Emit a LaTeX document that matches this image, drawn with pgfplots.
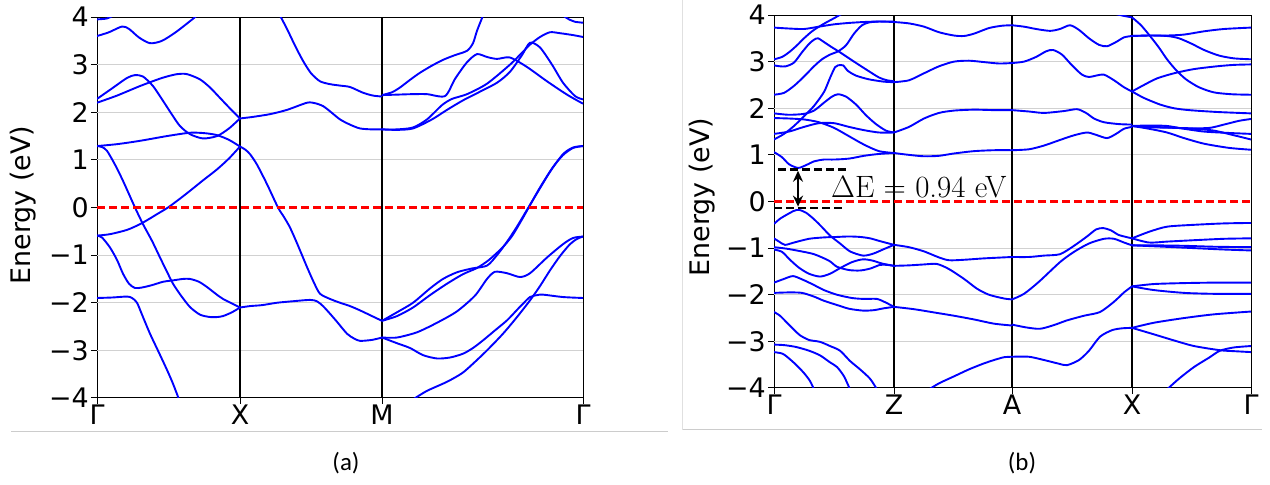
\documentclass[border=0pt]{standalone}
\usepackage[no-math]{fontspec}
\setmainfont{DejaVu Sans}
\newfontfamily\carlito{Carlito}
\newfontfamily\lmr{Latin Modern Roman}
\usepackage{pgfplots}
\pgfplotsset{compat=1.18}
\usetikzlibrary{arrows.meta}
\definecolor{mplred}{RGB}{255,0,0}
\pgfplotsset{
  band/.style={draw=blue, line width=1.9bp, smooth, tension=0.45, no marks},
  gridl/.style={draw=black!18, line width=1.2bp, no marks},
  bs/.style={scale only axis, ymin=-4, ymax=4,
    ytick={-4,-3,-2,-1,0,1,2,3,4},
    yticklabels={−4,−3,−2,−1,0,1,2,3,4},
    axis line style={black, line width=1bp},
    tick style={black, line width=1bp},
    tick align=outside, major tick length=6bp, tick pos=left,
    ticklabel style={font=\fontsize{27}{30}\selectfont},
    yticklabel style={inner xsep=2bp},
    xticklabel style={inner ysep=1bp},
    clip=true},
  vline/.style={draw=black, line width=1.3bp, no marks}
}
\begin{document}
\begin{tikzpicture}
\path[use as bounding box] (0,0) rectangle (1270bp,485bp);
% frames
\draw[black!20, line width=1bp] (11bp,53bp) -- (668bp,53bp);
\draw[black!20, line width=1bp] (683bp,55bp) -- (1262bp,55bp);
\draw[black!12, line width=1bp] (682bp,55bp) -- (682bp,485bp);
\node[font=\fontsize{27}{30}\selectfont, rotate=90] at (23bp,280bp) {Energy (eV)};
\node[font=\fontsize{27}{30}\selectfont, rotate=90] at (702bp,288bp) {Energy (eV)};
\node[font=\carlito\fontsize{25}{28}\selectfont] at (346bp,22bp) {(a)};
\node[font=\carlito\fontsize{25}{28}\selectfont] at (1022bp,22bp) {(b)};

% ---------------- panel (a)
\begin{axis}[bs, at={(97bp,87bp)}, anchor=south west, width=486bp, height=381bp,
  xmin=0, xmax=486, xtick={0,143,285,486}, xticklabels={Γ,X,M,Γ}]
\addplot[gridl] coordinates {(0,3)(486,3)};
\addplot[gridl] coordinates {(0,2)(486,2)};
\addplot[gridl] coordinates {(0,1)(486,1)};
\addplot[gridl] coordinates {(0,-1)(486,-1)};
\addplot[gridl] coordinates {(0,-2)(486,-2)};
\addplot[gridl] coordinates {(0,-3)(486,-3)};
\addplot[vline] coordinates {(143,-4)(143,4)};
\addplot[vline] coordinates {(285,-4)(285,4)};
% Gamma-X
\addplot[band] coordinates {(0,3.95)(10,3.97)(18,4.05)};
\addplot[band] coordinates {(0,3.6)(12,3.68)(25,3.8)(32,3.75)(42,3.57)(53,3.45)(65,3.5)(80,3.7)(100,4.03)};
\addplot[band] coordinates {(0,2.28)(15,2.5)(30,2.72)(38,2.78)(46,2.75)(56,2.55)(66,2.24)(75,1.95)(83,1.71)(93,1.54)(106,1.45)(120,1.5)(132,1.66)(143,1.87)};
\addplot[band] coordinates {(0,2.2)(20,2.35)(43,2.55)(65,2.72)(80,2.8)(90,2.8)(103,2.69)(113,2.52)(123,2.3)(133,2.08)(143,1.87)};
\addplot[band] coordinates {(0,1.29)(20,1.33)(43,1.4)(70,1.5)(93,1.57)(108,1.56)(120,1.52)(132,1.42)(143,1.28)};
\addplot[band] coordinates {(0,1.29)(5,1.27)(10,1.19)(18,0.9)(26,0.56)(38,0)(46,-0.35)(55,-0.7)(63,-1.05)(70,-1.35)(76,-1.6)(84,-1.85)(93,-2.09)(103,-2.25)(113,-2.3)(120,-2.3)(126,-2.28)(135,-2.2)(143,-2.1)};
\addplot[band] coordinates {(0,-0.59)(13,-0.56)(30,-0.47)(43,-0.35)(53,-0.23)(60,-0.14)(71,0)(82,0.17)(93,0.35)(106,0.57)(120,0.8)(132,1.03)(143,1.28)};
\addplot[band] coordinates {(0,-0.59)(5,-0.63)(13,-0.84)(20,-1.1)(26,-1.39)(32,-1.6)(38,-1.69)(45,-1.68)(55,-1.63)(66,-1.56)(76,-1.53)(86,-1.5)(93,-1.5)(102,-1.56)(110,-1.67)(118,-1.8)(126,-1.92)(143,-2.1)};
\addplot[band] coordinates {(0,-1.9)(15,-1.89)(30,-1.87)(35,-1.9)(40,-2.0)(46,-2.3)(53,-2.65)(62,-3.05)(70,-3.41)(76,-3.7)(82,-4.03)};
% X-M
\addplot[band] coordinates {(183,4.03)(190,3.75)(198,3.4)(206,3.08)(214,2.82)(223,2.65)(233,2.59)(243,2.56)(253,2.53)(266,2.41)(276,2.35)(285,2.33)};
\addplot[band] coordinates {(143,1.87)(155,1.9)(173,1.96)(190,2.05)(210,2.2)(218,2.19)(226,2.13)(233,2.02)(243,1.85)(253,1.74)(263,1.66)(275,1.64)(285,1.64)};
\addplot[band] coordinates {(143,1.28)(148,1.22)(153,1.12)(160,0.9)(170,0.49)(181,0)(187,-0.2)(193,-0.42)(200,-0.75)(210,-1.25)(217,-1.58)(223,-1.81)(233,-1.92)(243,-2.0)(253,-2.07)(263,-2.16)(275,-2.28)(285,-2.38)};
\addplot[band] coordinates {(143,-2.1)(153,-2.07)(165,-2.05)(180,-2.0)(195,-1.97)(213,-1.94)(220,-1.97)(226,-2.07)(233,-2.23)(240,-2.4)(250,-2.65)(257,-2.75)(263,-2.8)(275,-2.78)(285,-2.73)};
% M-Gamma
\addplot[band] coordinates {(285,2.36)(295,2.42)(303,2.52)(313,2.68)(323,2.83)(335,2.98)(346,3.1)(358,3.2)(370,3.29)(376,3.45)(380,3.71)(386,4.03)};
\addplot[band] coordinates {(285,2.36)(300,2.37)(315,2.38)(330,2.38)(348,2.34)(358,2.7)(370,3.05)(380,3.22)(390,3.16)(400,3.12)(413,3.15)(430,2.95)(450,2.65)(470,2.37)(486,2.18)};
\addplot[band] coordinates {(285,1.64)(300,1.64)(316,1.68)(330,1.85)(345,2.15)(355,2.28)(370,2.38)(390,2.6)(413,3.0)(425,3.25)(433,3.42)(443,3.58)(453,3.68)(463,3.66)(476,3.62)(486,3.58)};
\addplot[band] coordinates {(285,1.64)(300,1.63)(316,1.66)(335,1.85)(350,2.05)(366,2.25)(380,2.4)(400,2.62)(413,2.85)(425,3.2)(433,3.46)(443,3.36)(455,3.0)(466,2.62)(478,2.34)(486,2.27)};
\addplot[band] coordinates {(466,4.03)(472,3.95)(478,3.9)(486,3.88)};
\addplot[band] coordinates {(285,-2.38)(300,-2.2)(316,-2.0)(333,-1.7)(346,-1.5)(360,-1.36)(375,-1.28)(390,-1.22)(400,-1.0)(410,-0.72)(420,-0.4)(430,-0.05)(440,0.3)(453,0.75)(466,1.12)(476,1.26)(486,1.29)};
\addplot[band] coordinates {(285,-2.38)(300,-2.28)(316,-2.1)(333,-1.84)(350,-1.6)(366,-1.4)(380,-1.27)(392,-1.1)(405,-0.85)(415,-0.6)(425,-0.25)(433,0.05)(443,0.42)(456,0.85)(466,1.1)(476,1.25)(486,1.29)};
\addplot[band] coordinates {(285,-2.73)(300,-2.73)(320,-2.62)(340,-2.42)(360,-2.18)(378,-1.85)(390,-1.5)(398,-1.35)(410,-1.38)(423,-1.46)(433,-1.38)(450,-1.05)(466,-0.77)(476,-0.64)(486,-0.61)};
\addplot[band] coordinates {(285,-2.73)(300,-2.85)(313,-2.95)(326,-3.1)(340,-3.17)(353,-3.15)(366,-3.07)(376,-2.95)(386,-2.79)(398,-2.58)(410,-2.37)(420,-2.15)(426,-2.02)(433,-1.88)(440,-1.84)(446,-1.83)(466,-1.88)(486,-1.9)};
\addplot[band] coordinates {(316,-4.03)(330,-3.85)(350,-3.66)(365,-3.48)(376,-3.28)(390,-3.0)(406,-2.65)(420,-2.3)(433,-1.95)(443,-1.65)(453,-1.32)(463,-1.02)(473,-0.77)(480,-0.66)(486,-0.61)};
\addplot[draw=mplred, line width=2.2bp, dash pattern=on 8bp off 4bp, no marks] coordinates {(0,0)(486,0)};
\end{axis}

% ---------------- panel (b)
\begin{axis}[bs, at={(774bp,97bp)}, anchor=south west, width=477bp, height=373bp,
  xmin=0, xmax=477, xtick={0,120,238,358,477}, xticklabels={Γ,Z,A,X,Γ}]
\addplot[gridl] coordinates {(0,3)(477,3)};
\addplot[gridl] coordinates {(0,2)(477,2)};
\addplot[gridl] coordinates {(0,1)(477,1)};
\addplot[gridl] coordinates {(0,-1)(477,-1)};
\addplot[gridl] coordinates {(0,-2)(477,-2)};
\addplot[gridl] coordinates {(0,-3)(477,-3)};
\addplot[vline] coordinates {(120,-4)(120,4)};
\addplot[vline] coordinates {(238,-4)(238,4)};
\addplot[vline] coordinates {(358,-4)(358,4)};
% Gamma-Z upper
\addplot[band] coordinates {(0,3.73)(15,3.71)(30,3.70)(45,3.75)(60,3.80)(75,3.83)(90,3.85)(105,3.86)(120,3.85)};
\addplot[band] coordinates {(0,3.05)(8,3.1)(15,3.2)(23,3.35)(30,3.5)(38,3.65)(45,3.75)(53,3.85)(60,3.93)(68,4.03)};
\addplot[band] coordinates {(0,2.92)(6,2.9)(12,2.9)(20,2.98)(28,3.2)(35,3.38)(40,3.47)(44,3.5)(50,3.42)(57,3.32)(66,3.2)(80,3.0)(93,2.82)(105,2.66)(113,2.6)(120,2.58)};
\addplot[band] coordinates {(0,2.29)(10,2.33)(20,2.48)(30,2.68)(40,2.9)(48,3.05)(56,3.15)(64,3.22)(72,3.35)(80,3.6)(88,3.78)(95,3.84)(105,3.86)(120,3.86)};
\addplot[band] coordinates {(0,1.33)(10,1.45)(20,1.62)(30,1.83)(40,2.05)(50,2.35)(56,2.65)(61,2.88)(64,2.92)(69,2.92)(74,2.8)(82,2.7)(95,2.62)(110,2.57)(120,2.56)};
\addplot[band] coordinates {(0,1.89)(15,1.86)(30,1.88)(40,1.95)(50,2.12)(58,2.25)(64,2.3)(72,2.25)(82,2.08)(92,1.85)(102,1.66)(112,1.52)(120,1.48)};
\addplot[band] coordinates {(0,1.79)(15,1.78)(30,1.76)(45,1.7)(60,1.58)(75,1.4)(90,1.22)(105,1.08)(120,1.04)};
\addplot[band] coordinates {(0,1.45)(15,1.5)(30,1.6)(45,1.68)(60,1.68)(75,1.6)(90,1.53)(105,1.48)(120,1.48)};
\addplot[band] coordinates {(0,1.06)(8,0.95)(15,0.8)(24,0.72)(32,0.78)(40,0.86)(50,0.9)(60,0.9)(75,0.92)(90,0.98)(105,1.02)(120,1.04)};
% Z-A upper
\addplot[band] coordinates {(120,3.85)(135,3.82)(150,3.75)(165,3.63)(180,3.56)(190,3.55)(200,3.6)(215,3.72)(228,3.77)(238,3.78)};
\addplot[band] coordinates {(120,2.56)(135,2.6)(150,2.75)(165,2.9)(180,3.0)(195,3.02)(210,2.99)(225,2.96)(238,2.97)};
\addplot[band] coordinates {(120,1.48)(135,1.6)(150,1.78)(165,1.9)(180,1.95)(200,1.97)(220,1.96)(238,1.96)};
\addplot[band] coordinates {(120,1.04)(135,1.0)(150,0.97)(165,0.98)(180,1.03)(200,1.08)(220,1.1)(238,1.1)};
% A-X upper
\addplot[band] coordinates {(238,3.78)(250,3.75)(262,3.7)(276,3.66)(286,3.7)(296,3.78)(305,3.68)(315,3.5)(325,3.36)(333,3.33)(342,3.42)(350,3.52)(358,3.55)};
\addplot[band] coordinates {(340,4.03)(350,3.98)(358,3.95)};
\addplot[band] coordinates {(238,2.97)(250,3.0)(262,3.1)(272,3.22)(279,3.25)(288,3.15)(298,2.92)(308,2.72)(315,2.67)(322,2.7)(330,2.72)(340,2.6)(350,2.45)(358,2.36)};
\addplot[band] coordinates {(238,1.96)(255,1.93)(270,1.9)(290,1.94)(303,1.98)(312,1.9)(320,1.78)(330,1.7)(345,1.66)(358,1.65)};
\addplot[band] coordinates {(238,1.1)(255,1.12)(270,1.2)(286,1.32)(300,1.42)(313,1.48)(322,1.43)(333,1.36)(342,1.45)(350,1.56)(358,1.6)};
% X-Gamma upper
\addplot[band] coordinates {(358,3.55)(375,3.56)(393,3.56)(410,3.58)(430,3.65)(450,3.7)(477,3.73)};
\addplot[band] coordinates {(358,3.55)(375,3.56)(393,3.55)(405,3.5)(418,3.38)(430,3.25)(445,3.13)(460,3.07)(477,3.05)};
\addplot[band] coordinates {(358,3.95)(367,3.78)(376,3.55)(385,3.3)(393,3.05)(402,2.82)(412,2.62)(425,2.45)(440,2.34)(458,2.3)(477,2.29)};
\addplot[band] coordinates {(358,2.36)(370,2.5)(383,2.64)(400,2.75)(420,2.84)(443,2.9)(460,2.93)(477,2.94)};
\addplot[band] coordinates {(358,2.36)(370,2.22)(386,2.08)(400,2.0)(415,1.96)(443,1.92)(477,1.89)};
\addplot[band] coordinates {(358,1.62)(375,1.63)(393,1.62)(410,1.56)(430,1.5)(455,1.47)(477,1.45)};
\addplot[band] coordinates {(358,1.62)(380,1.6)(400,1.58)(420,1.56)(440,1.52)(460,1.42)(477,1.33)};
\addplot[band] coordinates {(358,1.62)(375,1.56)(393,1.48)(410,1.36)(430,1.24)(455,1.15)(477,1.11)};
\addplot[band] coordinates {(358,1.62)(380,1.59)(400,1.58)(420,1.57)(436,1.58)(450,1.65)(465,1.73)(477,1.77)};
% Gamma-Z lower
\addplot[band] coordinates {(0,-0.48)(6,-0.37)(13,-0.28)(20,-0.2)(25,-0.18)(32,-0.24)(40,-0.38)(48,-0.55)(56,-0.73)(66,-0.9)(76,-1.07)(89,-1.16)(99,-1.12)(110,-1.02)(120,-0.93)};
\addplot[band] coordinates {(0,-0.79)(5,-0.86)(11,-0.93)(20,-0.88)(35,-0.8)(50,-0.77)(63,-0.76)(75,-0.75)(86,-0.76)(96,-0.79)(106,-0.85)(120,-0.93)};
\addplot[band] coordinates {(0,-0.98)(12,-1.01)(25,-1.06)(40,-1.13)(55,-1.27)(63,-1.4)(75,-1.47)(86,-1.48)(96,-1.44)(106,-1.36)(113,-1.36)(120,-1.38)};
\addplot[band] coordinates {(0,-1.03)(8,-1.08)(16,-1.25)(25,-1.42)(35,-1.55)(46,-1.61)(56,-1.55)(66,-1.43)(78,-1.3)(89,-1.24)(99,-1.27)(108,-1.33)(120,-1.38)};
\addplot[band] coordinates {(0,-1.74)(10,-1.66)(19,-1.6)(28,-1.67)(38,-1.77)(50,-1.9)(63,-2.0)(78,-2.07)(90,-2.09)(103,-2.09)(112,-2.17)(120,-2.26)};
\addplot[band] coordinates {(0,-1.96)(15,-1.95)(28,-1.96)(40,-2.04)(50,-2.13)(63,-2.22)(75,-2.3)(89,-2.34)(100,-2.33)(110,-2.29)(120,-2.26)};
\addplot[band] coordinates {(0,-2.37)(6,-2.45)(13,-2.6)(20,-2.75)(26,-2.87)(35,-2.97)(46,-3.01)(56,-3.1)(66,-3.2)(76,-3.42)(86,-3.6)(96,-3.8)(103,-4.03)};
\addplot[band] coordinates {(0,-3.07)(10,-3.08)(22,-3.12)(35,-3.2)(46,-3.3)(56,-3.45)(63,-3.55)(70,-3.75)(76,-4.03)};
\addplot[band] coordinates {(0,-3.23)(8,-3.26)(13,-3.33)(22,-3.5)(30,-3.68)(36,-3.85)(40,-4.03)};
% Z-A lower
\addplot[band] coordinates {(120,-0.93)(135,-0.98)(150,-1.07)(165,-1.2)(175,-1.26)(190,-1.25)(210,-1.22)(238,-1.19)};
\addplot[band] coordinates {(120,-1.38)(135,-1.37)(150,-1.35)(163,-1.34)(175,-1.45)(190,-1.66)(203,-1.87)(215,-2.0)(230,-2.08)(238,-2.1)};
\addplot[band] coordinates {(120,-2.26)(140,-2.31)(163,-2.39)(180,-2.45)(200,-2.53)(220,-2.62)(238,-2.66)};
\addplot[band] coordinates {(155,-4.03)(165,-3.9)(180,-3.75)(195,-3.6)(209,-3.48)(220,-3.4)(230,-3.34)(238,-3.33)};
% A-X lower
\addplot[band] coordinates {(238,-1.19)(255,-1.19)(270,-1.16)(286,-1.13)(300,-0.95)(313,-0.75)(322,-0.6)(329,-0.57)(337,-0.62)(345,-0.72)(358,-0.79)};
\addplot[band] coordinates {(238,-2.1)(250,-1.98)(265,-1.72)(286,-1.3)(300,-1.08)(315,-0.9)(330,-0.8)(340,-0.8)(350,-0.88)(358,-0.94)};
\addplot[band] coordinates {(238,-2.64)(252,-2.7)(266,-2.73)(280,-2.65)(293,-2.55)(310,-2.45)(326,-2.37)(340,-2.15)(350,-1.95)(358,-1.82)};
\addplot[band] coordinates {(238,-3.33)(255,-3.33)(270,-3.4)(285,-3.48)(293,-3.51)(305,-3.4)(315,-3.2)(326,-2.9)(338,-2.76)(348,-2.72)(358,-2.71)};
% X-Gamma lower
\addplot[band] coordinates {(358,-0.79)(375,-0.65)(393,-0.54)(420,-0.5)(450,-0.47)(477,-0.46)};
\addplot[band] coordinates {(358,-0.79)(375,-0.88)(393,-0.86)(420,-0.83)(450,-0.8)(477,-0.79)};
\addplot[band] coordinates {(358,-0.94)(380,-0.94)(410,-0.95)(440,-0.97)(477,-0.98)};
\addplot[band] coordinates {(358,-0.94)(390,-0.97)(420,-1.0)(450,-1.03)(477,-1.05)};
\addplot[band] coordinates {(358,-1.82)(380,-1.77)(410,-1.75)(440,-1.74)(477,-1.74)};
\addplot[band] coordinates {(358,-1.82)(380,-1.9)(410,-1.96)(440,-1.98)(477,-1.98)};
\addplot[band] coordinates {(358,-2.71)(380,-2.6)(410,-2.5)(440,-2.42)(477,-2.36)};
\addplot[band] coordinates {(358,-2.71)(380,-2.85)(400,-2.98)(420,-3.1)(446,-3.19)(460,-3.21)(477,-3.23)};
\addplot[band] coordinates {(393,-4.03)(405,-3.8)(420,-3.55)(435,-3.35)(446,-3.2)(460,-3.13)(477,-3.1)};
\addplot[draw=mplred, line width=2.2bp, dash pattern=on 8bp off 4bp, no marks] coordinates {(0,0)(477,0)};
% gap annotation
\draw[draw=black, line width=2.5bp, dash pattern=on 8bp off 4bp] (axis cs:4,0.69) -- (axis cs:73,0.69);
\draw[draw=black, line width=2.5bp, dash pattern=on 8bp off 4bp] (axis cs:0,-0.14) -- (axis cs:69,-0.14);
\draw[draw=black, fill=black, line width=2.4bp, {Stealth[length=11bp,width=10bp]}-{Stealth[length=11bp,width=10bp]}] (axis cs:24,0.66) -- (axis cs:24,-0.11);
\node[anchor=west, inner sep=0pt, font=\lmr\fontsize{31}{34}\selectfont] at (axis cs:57,0.31) {ΔE = 0.94 eV};
\end{axis}
\end{tikzpicture}
\end{document}
